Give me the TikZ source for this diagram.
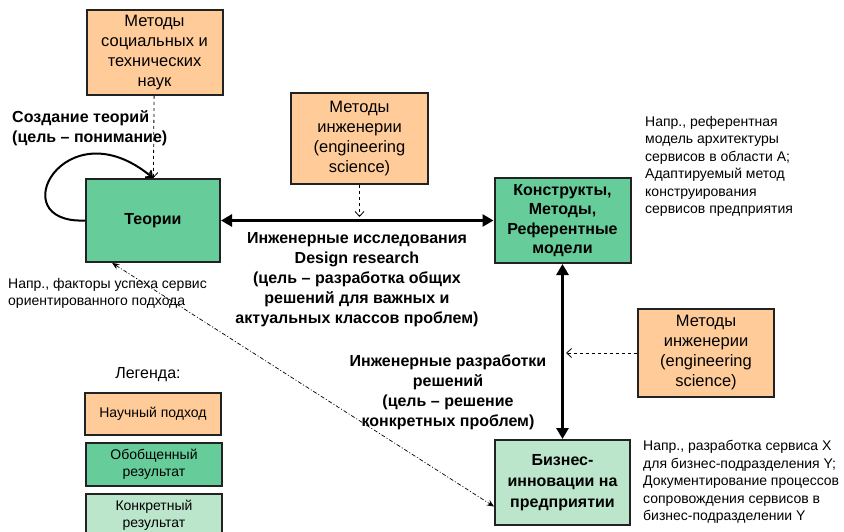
\documentclass[tikz,border=0pt]{standalone}
\usepackage{fontspec}
\setmainfont{Liberation Sans}
\usetikzlibrary{arrows.meta,calc}

\definecolor{peach}{HTML}{FFCC99}
\definecolor{gen}{HTML}{66CC99}
\definecolor{spec}{HTML}{BBE6CC}
\definecolor{edge}{HTML}{222222}

\tikzset{
  box/.style={draw=edge, line width=2pt, minimum width=136pt, align=center, inner sep=2pt},
  method/.style={box, fill=peach, font=\fontsize{16.5}{20}\selectfont},
  general/.style={box, fill=gen, font=\bfseries\fontsize{16}{19.5}\selectfont},
  specific/.style={box, fill=spec, font=\bfseries\fontsize{16}{21}\selectfont},
  legendbox/.style={box, font=\fontsize{14}{17.5}\selectfont},
  note/.style={align=left, inner sep=0pt, font=\fontsize{14}{17.5}\selectfont},
  heading/.style={align=center, inner sep=0pt, font=\bfseries\fontsize{16}{20}\selectfont},
  mainflow/.style={line width=3pt, draw=black, {Triangle[length=11pt,width=12pt]}-{Triangle[length=11pt,width=12pt]}},
  feed/.style={dashed, line width=0.8pt, -{Straight Barb[length=5pt,width=9pt]}},
  trace/.style={line width=0.7pt, dash pattern=on 4pt off 2pt on 1pt off 2pt, {Stealth[length=7pt,width=6pt]}-{Stealth[length=7pt,width=6pt]}}
}

\begin{document}
\begin{tikzpicture}[x=1pt,y=-1pt]
\useasboundingbox (0,0) rectangle (844,532);

% method boxes
\node[method, minimum height=85pt] (social) at (154.5,52.5) {Методы\\социальных и\\технических\\наук};
\node[method, minimum width=137pt, minimum height=91pt] (eng1) at (359.5,138.5) {Методы\\инженерии\\(engineering\\science)};
\node[method, minimum height=88pt] (eng2) at (706,353) {Методы\\инженерии\\(engineering\\science)};

% result boxes
\node[general, minimum width=134pt, minimum height=83pt] (theory) at (153,220.5) {Теории};
\node[general, minimum height=85pt] (constructs) at (562.5,220.5) {Конструкты,\\Методы,\\Референтные\\модели};
\node[specific, minimum width=135pt, minimum height=85pt] (business) at (562.5,482.5) {Бизнес-\\инновации на\\предприятии};

% main flows
\draw[mainflow] (theory) -- (constructs);
\draw[mainflow] (constructs) -- (business);

% methods feeding the flows
\coordinate (hitA) at (359.5,217);
\coordinate (hitB) at (566,353);
\draw[feed] (social) -- (theory);
\draw[feed] (eng1) -- (hitA);
\draw[feed] (eng2) -- (hitB);

% theory building loop
\draw[line width=2pt, -{Straight Barb[length=5pt,width=9pt]}]
  (theory.west) .. controls (0,224) and (65,105) .. (theory.north);

% trace between theory and enterprise innovation
\draw[trace] ($(theory.south west)!0.2!(theory.south east)$) -- ($(business.west)+(0,24)$);

% flow labels
\node[heading, align=left, anchor=west] (lblT) at (12,128.5) {Создание теорий\\(цель – понимание)};
\node[heading] (lblR) at (357,279.5) {Инженерные исследования\\Design research\\(цель – разработка общих\\решений для важных и\\актуальных классов проблем)};
\node[heading] (lblE) at (448,392.5) {Инженерные разработки\\решений\\(цель – решение\\конкретных проблем)};

% examples
\node[note, anchor=west] (exC) at (645,166.5) {Напр., референтная\\модель архитектуры\\сервисов в области А;\\Адаптируемый метод\\конструирования\\сервисов предприятия};
\node[note, anchor=west] (exT) at (8,293.5) {Напр., факторы успеха сервис\\ориентированного подхода};
\node[note, anchor=west] (exB) at (643,482) {Напр., разработка сервиса X\\для бизнес-подразделения Y;\\Документирование процессов\\сопровождения сервисов в\\бизнес-подразделении Y};

% legend
\node[font=\fontsize{16}{20}\selectfont, inner sep=0pt] (legT) at (148,375) {Легенда:};
\node[legendbox, fill=peach, minimum height=42pt] (legA) at (153,414) {Научный подход};
\node[legendbox, fill=gen, minimum height=43pt] (legB) at (154,464.5) {Обобщенный\\результат};
\node[legendbox, fill=spec, minimum height=43pt] (legC) at (154,515.5) {Конкретный\\результат};
\end{tikzpicture}
\end{document}
